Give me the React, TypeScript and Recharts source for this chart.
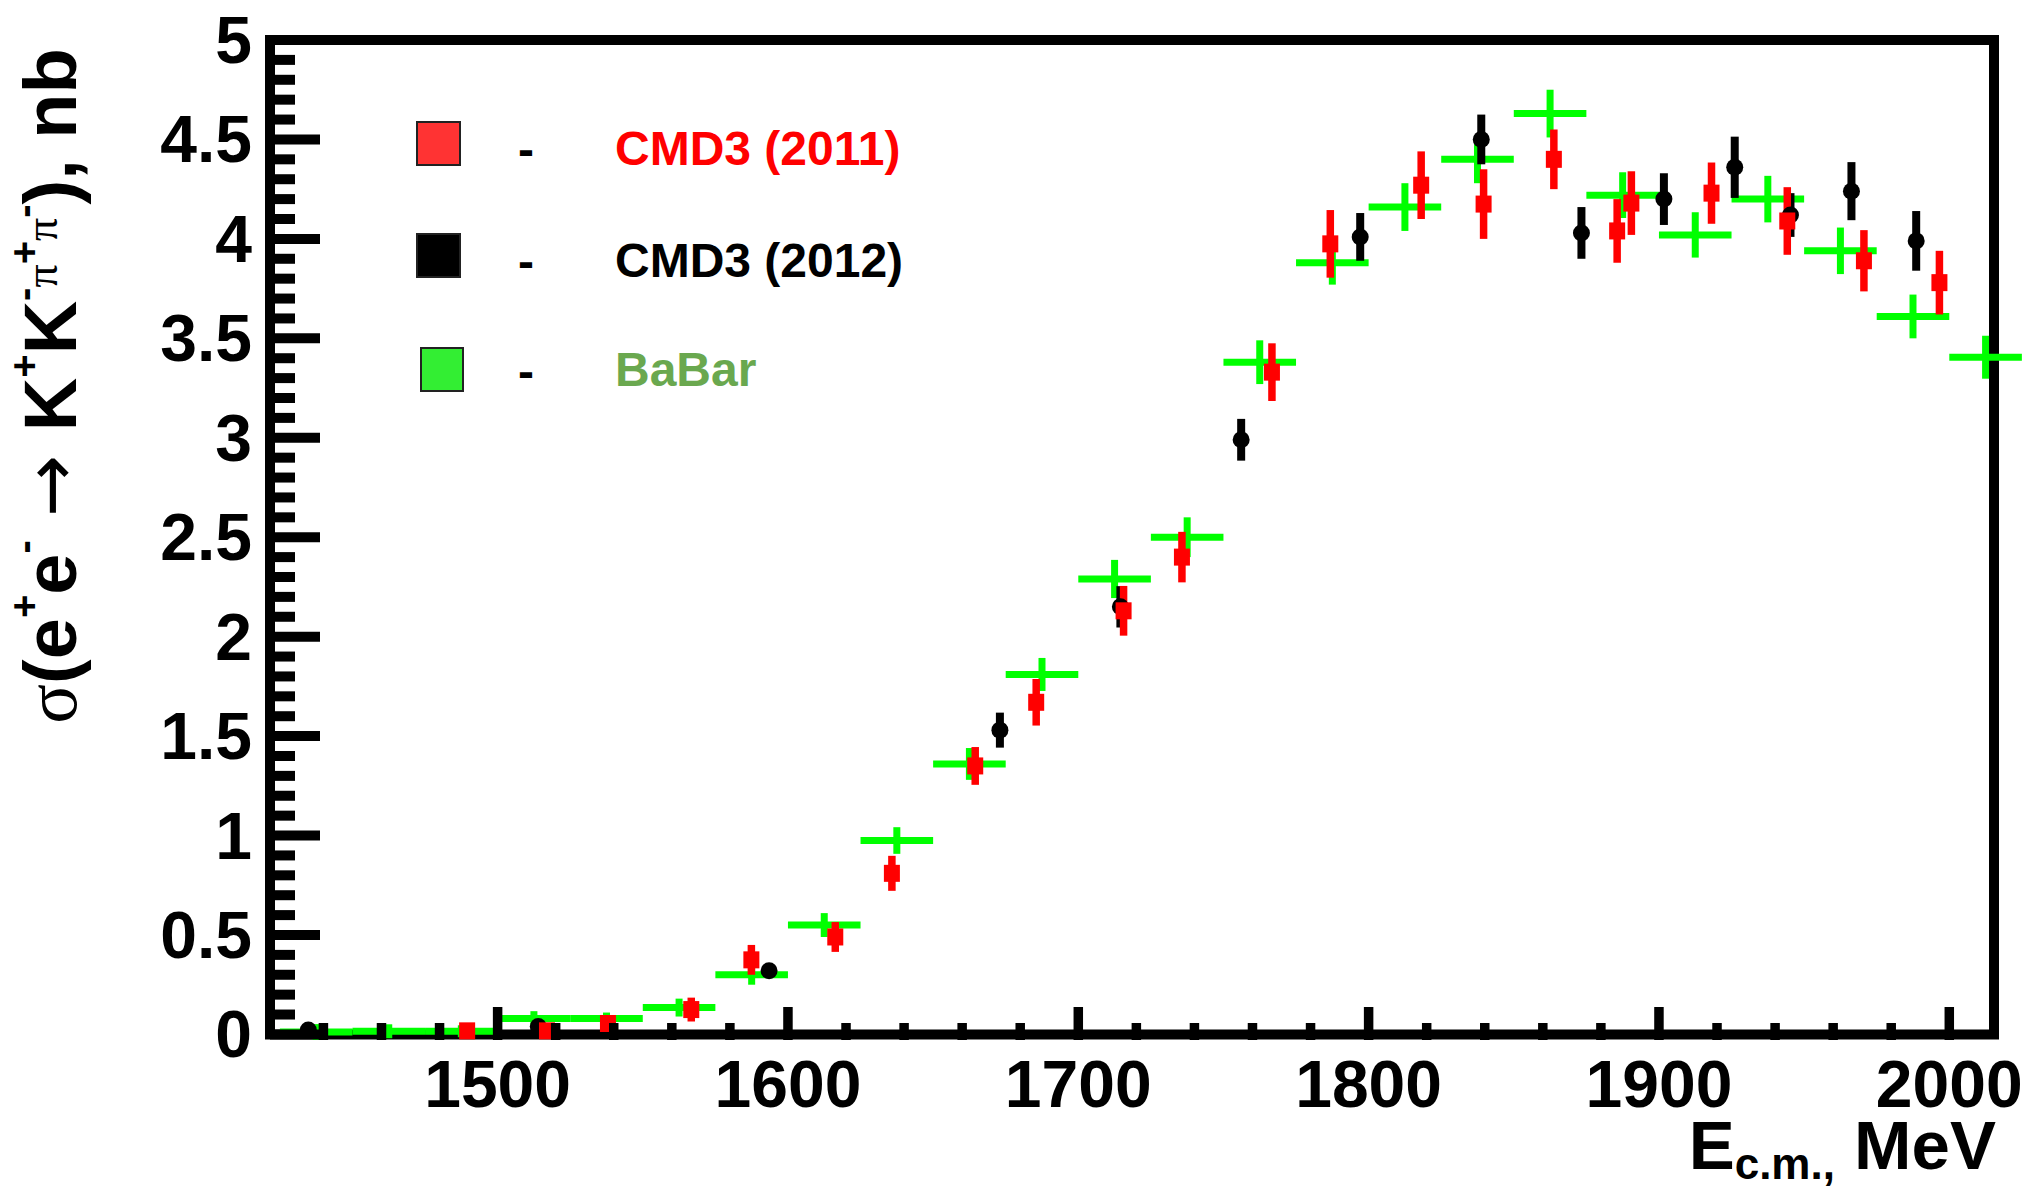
import React from "react";
import { ErrorBar, ReferenceArea, Scatter, ScatterChart, XAxis, YAxis } from "recharts";

// BaBar: 25 MeV bins, cross drawn from x/y errors
const babarE = [
  1437.5, 1462.5, 1487.5, 1512.5, 1537.5, 1562.5, 1587.5, 1612.5, 1637.5, 1662.5, 1687.5, 1712.5,
  1737.5, 1762.5, 1787.5, 1812.5, 1837.5, 1862.5, 1887.5, 1912.5, 1937.5, 1962.5, 1987.5, 2012.5,
];
const babarSigma = [
  0.012, 0.016, 0.016, 0.08, 0.08, 0.135, 0.3, 0.55, 0.975, 1.36, 1.81, 2.29,
  2.5, 3.38, 3.88, 4.16, 4.4, 4.63, 4.22, 4.02, 4.2, 3.94, 3.61, 3.405,
];
const babarErr = [
  0.04, 0.035, 0.03, 0.037, 0.03, 0.045, 0.05, 0.06, 0.067, 0.08, 0.083, 0.096,
  0.1, 0.11, 0.11, 0.12, 0.12, 0.12, 0.115, 0.114, 0.117, 0.117, 0.11, 0.108,
];
const BABAR_HALF_BIN = 12.5;

// CMD3 (2011)
const cmd11E = [
  1489.5, 1517, 1538, 1566.7, 1587.4, 1616.3, 1635.8, 1664.5, 1685.5, 1715.6, 1735.7,
  1766.7, 1786.8, 1818.1, 1839.6, 1863.8, 1885.6, 1890.5, 1918.1, 1944.2, 1970.6, 1996.6,
];
const cmd11Sigma = [
  0.018, 0.018, 0.055, 0.125, 0.375, 0.49, 0.81, 1.35, 1.67, 2.13, 2.4,
  3.33, 3.975, 4.27, 4.175, 4.4, 4.04, 4.18, 4.23, 4.09, 3.89, 3.78,
];
const cmd11Err = [
  0.02, 0.02, 0.03, 0.06, 0.075, 0.075, 0.088, 0.095, 0.117, 0.125, 0.127,
  0.145, 0.17, 0.17, 0.175, 0.15, 0.16, 0.16, 0.154, 0.17, 0.154, 0.16,
];

// CMD3 (2012)
const cmd12E = [
  1434.8, 1514, 1593.5, 1673, 1714.5, 1756.1, 1797.1, 1838.8, 1873.3, 1901.7, 1926.1, 1945.3, 1966.3, 1988.6,
];
const cmd12Sigma = [0.022, 0.04, 0.32, 1.53, 2.15, 2.99, 4.01, 4.5, 4.03, 4.2, 4.36, 4.12, 4.24, 3.99];
const cmd12Err = [0.02, 0.02, 0.03, 0.088, 0.104, 0.105, 0.12, 0.125, 0.13, 0.13, 0.154, 0.11, 0.146, 0.15];

const X_DOMAIN: [number, number] = [1421.6, 2015.4];
const Y_DOMAIN: [number, number] = [0, 5];

const xTicks = [
  1440, 1460, 1480, 1500, 1520, 1540, 1560, 1580, 1600, 1620, 1640, 1660, 1680, 1700, 1720,
  1740, 1760, 1780, 1800, 1820, 1840, 1860, 1880, 1900, 1920, 1940, 1960, 1980, 2000,
];
const xLabels = [1500, 1600, 1700, 1800, 1900, 2000];

const yTicks = [
  0, 0.1, 0.2, 0.3, 0.4, 0.5, 0.6, 0.7, 0.8, 0.9, 1, 1.1, 1.2, 1.3, 1.4, 1.5, 1.6, 1.7,
  1.8, 1.9, 2, 2.1, 2.2, 2.3, 2.4, 2.5, 2.6, 2.7, 2.8, 2.9, 3, 3.1, 3.2, 3.3, 3.4, 3.5,
  3.6, 3.7, 3.8, 3.9, 4, 4.1, 4.2, 4.3, 4.4, 4.5, 4.6, 4.7, 4.8, 4.9, 5,
];
const yLabelValues = [0, 0.5, 1, 1.5, 2, 2.5, 3, 3.5, 4, 4.5, 5];
const yLabels = ["0", "0.5", "1", "1.5", "2", "2.5", "3", "3.5", "4", "4.5", "5"];

const babar = babarE.map((e, i) => ({ e, sigma: babarSigma[i], err: babarErr[i], dx: BABAR_HALF_BIN }));
const cmd11 = cmd11E.map((e, i) => ({ e, sigma: cmd11Sigma[i], err: cmd11Err[i] }));
const cmd12 = cmd12E.map((e, i) => ({ e, sigma: cmd12Sigma[i], err: cmd12Err[i] }));

const SANS = "'Liberation Sans', Arial, Helvetica, sans-serif";
const SERIF = "'Liberation Serif', 'Times New Roman', serif";

// inward ticks: tick size/margin are 0, so (x, y) sits on the axis line
function XTick(props: any) {
  const { x, y, payload } = props;
  const major = xLabels.includes(payload.value);
  return (
    <g>
      <line x1={x} y1={y} x2={x} y2={y - (major ? 33 : 17)} stroke="#000" strokeWidth={9.5} />
      {major && (
        <text x={x} y={y + 67} textAnchor="middle" fontFamily={SANS} fontWeight="bold" fontSize={66} fill="#000">
          {payload.value}
        </text>
      )}
    </g>
  );
}

function YTick(props: any) {
  const { x, y, payload } = props;
  const idx = yLabelValues.findIndex((v) => Math.abs(v - payload.value) < 1e-6);
  const major = idx >= 0;
  return (
    <g>
      <line x1={x} y1={y} x2={x + (major ? 50 : 25)} y2={y} stroke="#000" strokeWidth={10} />
      {major && (
        <text x={x - 18} y={y + 23} textAnchor="end" fontFamily={SANS} fontWeight="bold" fontSize={66} fill="#000">
          {yLabels[idx]}
        </text>
      )}
    </g>
  );
}

const noMarker = () => <g />;
const redSquare = (p: any) => <rect x={p.cx - 8} y={p.cy - 8.5} width={16} height={17} fill="#ff0000" />;
const blackDot = (p: any) => <circle cx={p.cx} cy={p.cy} r={8.5} fill="#000" />;

export default function App() {
  return (
    <div style={{ position: "relative", width: 2030, height: 1190, background: "#fff" }}>
      <style>{"body{margin:0}"}</style>
      <ScatterChart width={2030} height={1190} margin={{ top: 40, right: 36, bottom: 149, left: 269 }}>
        <ReferenceArea
          x1={X_DOMAIN[0]}
          x2={X_DOMAIN[1]}
          y1={Y_DOMAIN[0]}
          y2={Y_DOMAIN[1]}
          fill="none"
          fillOpacity={0}
          stroke="#000"
          strokeWidth={10}
          ifOverflow="visible"
        />
        <XAxis
          type="number"
          dataKey="e"
          domain={X_DOMAIN}
          allowDataOverflow
          ticks={xTicks}
          interval={0}
          height={1}
          tickSize={0}
          tickMargin={0}
          axisLine={false}
          tickLine={false}
          tick={(p: any) => <XTick {...p} />}
        />
        <YAxis
          type="number"
          dataKey="sigma"
          domain={Y_DOMAIN}
          ticks={yTicks}
          interval={0}
          width={1}
          tickSize={0}
          tickMargin={0}
          axisLine={false}
          tickLine={false}
          tick={(p: any) => <YTick {...p} />}
        />
        <Scatter name="BaBar" data={babar} shape={noMarker} isAnimationActive={false}>
          <ErrorBar dataKey="err" direction="y" width={0} stroke="#00ff00" strokeWidth={7} />
          <ErrorBar dataKey="dx" direction="x" width={0} stroke="#00ff00" strokeWidth={7} />
        </Scatter>
        <Scatter name="CMD3 (2012)" data={cmd12} shape={blackDot} isAnimationActive={false}>
          <ErrorBar dataKey="err" direction="y" width={0} stroke="#000" strokeWidth={8} />
        </Scatter>
        <Scatter name="CMD3 (2011)" data={cmd11} shape={redSquare} isAnimationActive={false}>
          <ErrorBar dataKey="err" direction="y" width={0} stroke="#ff0000" strokeWidth={7.5} />
        </Scatter>
      </ScatterChart>

      <svg
        width={2030}
        height={1190}
        style={{ position: "absolute", left: 0, top: 0, pointerEvents: "none" }}
        fontFamily={SANS}
        fontWeight="bold"
      >
        {/* legend */}
        <rect x={417} y={122} width={43} height={43} fill="#ff3333" stroke="#222" strokeWidth={2} />
        <text x={526} y={166} textAnchor="middle" fontSize={48}>-</text>
        <text x={615} y={165} fontSize={48} fill="#ff0000">CMD3 (2011)</text>

        <rect x={417} y={234} width={43} height={43} fill="#000" stroke="#222" strokeWidth={2} />
        <text x={526} y={278} textAnchor="middle" fontSize={48}>-</text>
        <text x={615} y={277} fontSize={48} fill="#000">CMD3 (2012)</text>

        <rect x={421} y={348} width={42} height={43} fill="#33ee33" stroke="#222" strokeWidth={2} />
        <text x={526} y={388} textAnchor="middle" fontSize={48}>-</text>
        <text x={615} y={386} fontSize={48} fill="#6aa84f">BaBar</text>

        {/* x axis title */}
        <text x={1996} y={1169} textAnchor="end" fontSize={69}>
          E
          <tspan fontSize={44} dy={10}>c.m.,</tspan>
          <tspan dy={-10}> MeV</tspan>
        </text>

        {/* y axis title */}
        <text transform="translate(76 386) rotate(-90)" textAnchor="middle" fontSize={74}>
          <tspan fontFamily={SERIF} fontWeight="normal">σ</tspan>
          <tspan>(e</tspan>
          <tspan fontSize={40} dy={-38}>+</tspan>
          <tspan dy={38}>e</tspan>
          <tspan fontSize={40} dy={-38}>-</tspan>
          <tspan dy={38} fontFamily="'DejaVu Sans', sans-serif" fontWeight="normal">{" \u2192 "}</tspan>
          <tspan>K</tspan>
          <tspan fontSize={40} dy={-38}>+</tspan>
          <tspan dy={38}>K</tspan>
          <tspan fontSize={40} dy={-38}>-</tspan>
          <tspan fontSize={46} dy={19} fontFamily={SERIF} fontWeight="normal">π</tspan>
          <tspan fontSize={40} dy={-19}>+</tspan>
          <tspan fontSize={46} dy={19} fontFamily={SERIF} fontWeight="normal">π</tspan>
          <tspan fontSize={40} dy={-19}>-</tspan>
          <tspan dy={38}>), nb</tspan>
        </text>
      </svg>
    </div>
  );
}
